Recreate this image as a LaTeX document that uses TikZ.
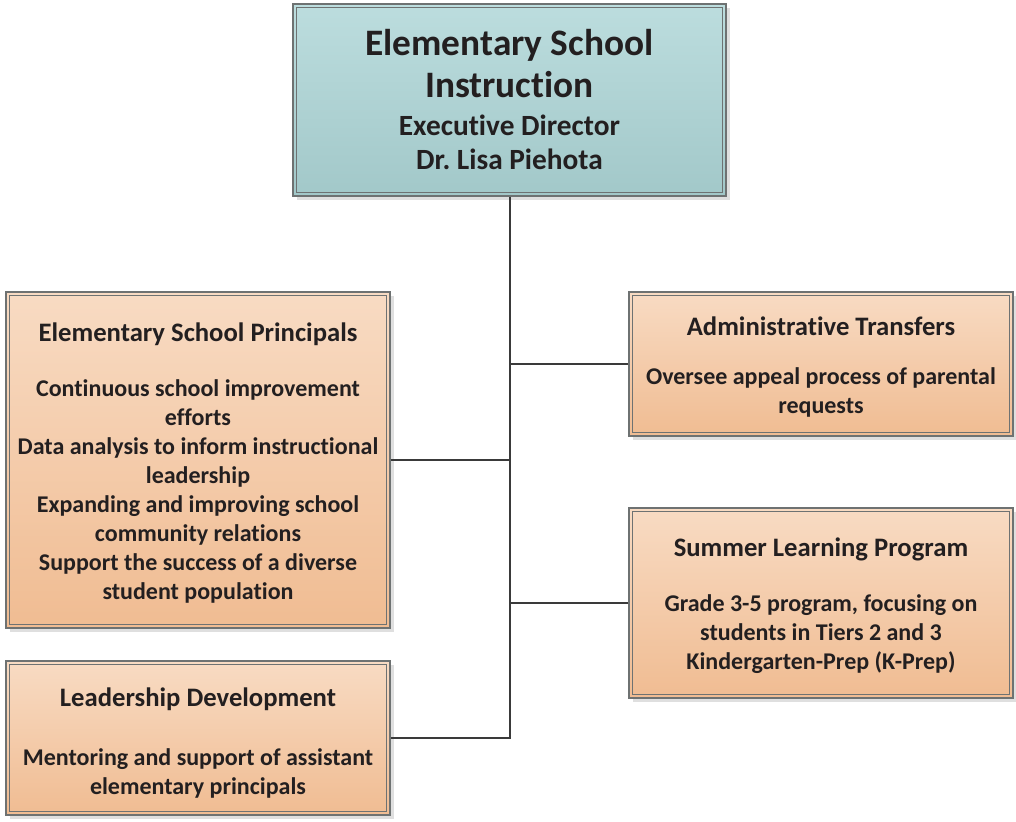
\documentclass[tikz,border=0pt]{standalone}
\usepackage{fontspec}
\setmainfont{Carlito}[Ligatures=NoCommon]
\usetikzlibrary{positioning,shadows,calc}
\definecolor{tealtop}{HTML}{BCDDDE}
\definecolor{tealbot}{HTML}{A2C8C9}
\definecolor{peachtop}{HTML}{F8DBC3}
\definecolor{peachbot}{HTML}{F0BC92}
\definecolor{edge}{HTML}{6E7272}
\definecolor{wire}{HTML}{3A3A3A}
\definecolor{ink}{HTML}{231F20}
\newcommand{\headfont}{\fontsize{20}{21.75}\selectfont}
\newcommand{\bigfont}{\fontsize{28}{25.5}\selectfont}
\newcommand{\lift}[1]{\rule{0pt}{#1}}
\tikzset{
  unit/.style={draw=edge, line width=0.9pt, inner sep=0pt, align=center,
               text=ink, font=\bfseries\fontsize{18}{21.75}\selectfont,
               drop shadow={shadow xshift=3pt, shadow yshift=-3pt,
                            fill=black!25, opacity=0.5}},
  headbox/.style={unit, top color=tealtop, bottom color=tealbot,
                  font=\bfseries\fontsize{22}{25.5}\selectfont},
  teambox/.style={unit, top color=peachtop, bottom color=peachbot},
  rim/.style={draw=edge, line width=0.6pt},
  link/.style={draw=wire, line width=1.5pt}
}
\begin{document}
\begin{tikzpicture}[x=0.75pt,y=-0.75pt]
  \useasboundingbox (0,0) rectangle (1016,821);

  % director on top
  \node[headbox, minimum width=324.75pt, minimum height=144pt] (head) at (509.5,100)
      {\bigfont Elementary School\\[6pt]\bigfont Instruction\\[3pt]Executive Director\\Dr.\ Lisa Piehota};

  % left column
  \node[teambox, minimum width=288pt, minimum height=252pt] (princ) at (198,460)
      {\headfont\lift{18pt}Elementary School Principals\\[19.5pt]
       Continuous school improvement\\efforts\\
       Data analysis to inform instructional\\leadership\\
       Expanding and improving school\\community relations\\
       Support the success of a diverse\\student population};
  \node[teambox, minimum width=288pt, minimum height=115.5pt] (lead) at (198,738)
      {\headfont\lift{21.5pt}Leadership Development\\[23pt]
       Mentoring and support of assistant\\elementary principals};

  % right column
  \node[teambox, minimum width=288pt, minimum height=108pt] (admin) at (821,364)
      {\headfont\lift{18pt}Administrative Transfers\\[15pt]
       Oversee appeal process of parental\\requests};
  \node[teambox, minimum width=288pt, minimum height=142.5pt] (summer) at (821,603)
      {\headfont\lift{18pt}Summer Learning Program\\[20pt]
       Grade 3-5 program, focusing on\\students in Tiers 2 and 3\\
       Kindergarten-Prep (K-Prep)};

  % inner frame of every box
  \foreach \b in {head,princ,lead,admin,summer}
    \draw[rim] ($(\b.north west)+(4,4)$) rectangle ($(\b.south east)+(-4,-4)$);

  % trunk and branches
  \draw[link] (head.south) -- (head.south |- lead.east) -- (lead.east);
  \draw[link] (princ.east) -- (princ.east -| head.south);
  \draw[link] (admin.west) -- (admin.west -| head.south);
  \draw[link] (summer.west) -- (summer.west -| head.south);
\end{tikzpicture}
\end{document}
